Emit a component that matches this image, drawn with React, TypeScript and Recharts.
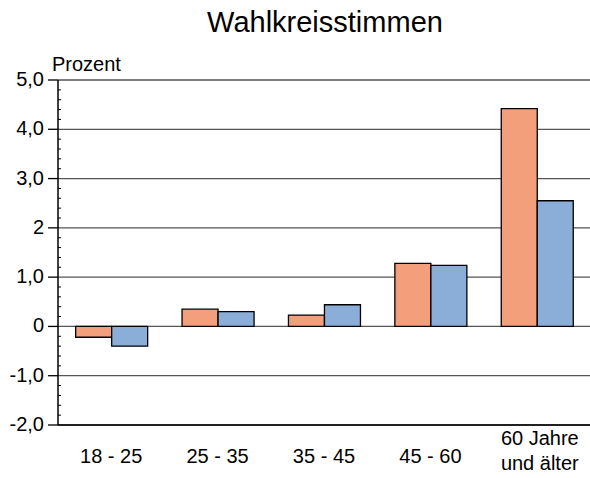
import React from "react";
import { BarChart, Bar, XAxis, YAxis, CartesianGrid } from "recharts";

const TITLE = "Wahlkreisstimmen";
const Y_LABEL = "Prozent";
const CATEGORIES = ["18 - 25", "25 - 35", "35 - 45", "45 - 60", "60 Jahre\nund älter"];
const SERIES_A = [-0.22, 0.35, 0.23, 1.28, 4.42];
const SERIES_B = [-0.4, 0.3, 0.44, 1.24, 2.55];
const Y_TICKS = [-2, -1, 0, 1, 2, 3, 4, 5];
const Y_TICK_LABELS = ["-2,0", "-1,0", "0", "1,0", "2", "3,0", "4,0", "5,0"];
const Y_MINOR_STEP = 0.2;

const COLOR_A = "#F39F7B";
const COLOR_B = "#8BAED8";
const FONT = "'Liberation Sans', Arial, Helvetica, sans-serif";

const W = 590;
const H = 478;
const AXIS_X = 58;
const X_AXIS_H = 53;
const TOP = 80;

const data = CATEGORIES.map((c, i) => ({ category: c, a: SERIES_A[i], b: SERIES_B[i] }));

const yMin = Y_TICKS[0];
const yMax = Y_TICKS[Y_TICKS.length - 1];
const allTicks: number[] = [];
for (let k = 0; yMin + k * Y_MINOR_STEP <= yMax + 1e-9; k++) {
  allTicks.push(Math.round((yMin + k * Y_MINOR_STEP) * 10) / 10);
}

const gridGenerator = (props: any) => {
  const yAxis = props?.yAxis;
  if (yAxis && typeof yAxis.scale === "function") {
    return Y_TICKS.map((t) => yAxis.scale(t));
  }
  if (yAxis && yAxis.scale && typeof yAxis.scale.map === "function") {
    return Y_TICKS.map((t) => yAxis.scale.map(t));
  }
  const off = props.offset;
  return Y_TICKS.map((t) => off.top + ((yMax - t) / (yMax - yMin)) * off.height);
};

const YTick = (props: any) => {
  const { y, payload } = props;
  const v = payload.value;
  const idx = Y_TICKS.findIndex((t) => Math.abs(t - v) < 1e-6);
  if (idx >= 0) {
    return (
      <g>
        <line x1={AXIS_X - 10} x2={AXIS_X} y1={y} y2={y} stroke="#000" strokeWidth={1.3} />
        <text
          x={AXIS_X - 14}
          y={y}
          dy={-1}
          textAnchor="end"
          dominantBaseline="central"
          fontSize={20}
          fontFamily={FONT}
          fill="#000"
        >
          {Y_TICK_LABELS[idx]}
        </text>
      </g>
    );
  }
  return <line x1={AXIS_X} x2={AXIS_X + 3} y1={y} y2={y} stroke="#000" strokeWidth={1} />;
};

const XTick = (props: any) => {
  const { x, y, payload } = props;
  const lines = String(payload.value).split("\n");
  if (lines.length === 1) {
    return (
      <text x={x} y={y + 37.5} textAnchor="middle" fontSize={20} fontFamily={FONT} fill="#000">
        {lines[0]}
      </text>
    );
  }
  return (
    <g>
      {lines.map((l, i) => (
        <text
          key={i}
          x={x + 3}
          y={y + 20 + i * 25}
          textAnchor="middle"
          fontSize={20}
          fontFamily={FONT}
          fill="#000"
        >
          {l}
        </text>
      ))}
    </g>
  );
};

export default function App() {
  return (
    <div style={{ position: "absolute", left: 0, top: 0, width: W, height: H, background: "#fff" }}>
      <BarChart
        width={W}
        height={H}
        data={data}
        margin={{ top: TOP, right: 0, bottom: 0, left: 0 }}
        barCategoryGap="16.6%"
        barGap={0}
      >
        <CartesianGrid
          vertical={false}
          stroke="#555"
          strokeWidth={1.3}
          horizontalCoordinatesGenerator={gridGenerator}
        />
        <XAxis
          dataKey="category"
          height={X_AXIS_H}
          tickLine={false}
          tickSize={0}
          tickMargin={0}
          interval={0}
          axisLine={{ stroke: "#000", strokeWidth: 1.5 }}
          tick={<XTick />}
        />
        <YAxis
          width={AXIS_X}
          domain={[yMin, yMax]}
          ticks={allTicks}
          interval={0}
          tickLine={false}
          tickSize={10}
          tickMargin={4}
          allowDataOverflow
          axisLine={{ stroke: "#000", strokeWidth: 1.5 }}
          tick={<YTick />}
        />
        <Bar dataKey="a" fill={COLOR_A} stroke="#000" strokeWidth={1.3} isAnimationActive={false} />
        <Bar dataKey="b" fill={COLOR_B} stroke="#000" strokeWidth={1.3} isAnimationActive={false} />
      </BarChart>
      <svg
        width={W}
        height={TOP}
        style={{ position: "absolute", left: 0, top: 0, pointerEvents: "none" }}
      >
        <text x={325} y={32} textAnchor="middle" fontSize={29} fontFamily={FONT} fill="#000">
          {TITLE}
        </text>
        <text x={52} y={71} fontSize={20} fontFamily={FONT} fill="#000">
          {Y_LABEL}
        </text>
      </svg>
    </div>
  );
}
